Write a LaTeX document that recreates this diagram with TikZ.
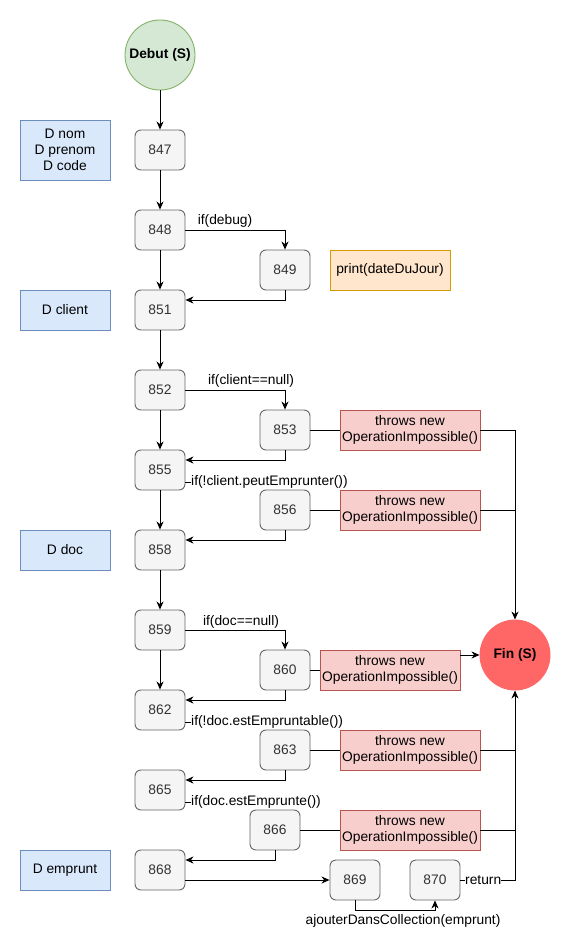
\documentclass[tikz,border=0pt]{standalone}
\usepackage{fontspec}
\setmainfont{Liberation Sans}
\usetikzlibrary{arrows.meta}
\definecolor{stmtfill}{HTML}{F5F5F5}
\definecolor{stmtline}{HTML}{666666}
\definecolor{stmttext}{HTML}{333333}
\definecolor{declfill}{HTML}{DAE8FC}
\definecolor{declline}{HTML}{6C8EBF}
\definecolor{notefill}{HTML}{FFE6CC}
\definecolor{noteline}{HTML}{D79B00}
\definecolor{excfill}{HTML}{F8CECC}
\definecolor{excline}{HTML}{B85450}
\definecolor{startfill}{HTML}{D5E8D4}
\definecolor{startline}{HTML}{82B366}
\definecolor{endfill}{HTML}{FF6666}
\begin{document}
\begin{tikzpicture}[x=1pt,y=-1pt,font=\fontsize{13.8}{16}\selectfont,
  stmt/.style={draw=stmtline,fill=stmtfill,text=stmttext,rounded corners=6pt,minimum width=50pt,minimum height=40pt,inner sep=0pt,line width=0.9pt},
  decl/.style={draw=declline,fill=declfill,minimum width=90pt,minimum height=40pt,inner sep=0pt,align=center,line width=0.9pt},
  note/.style={draw=noteline,fill=notefill,minimum width=120pt,minimum height=40pt,inner sep=0pt,line width=0.9pt},
  exc/.style={draw=excline,fill=excfill,minimum width=140pt,minimum height=40pt,inner sep=0pt,align=center,line width=0.9pt},
  term/.style={circle,minimum size=70pt,inner sep=0pt,font=\fontsize{13.8}{16}\selectfont\bfseries,line width=0.9pt},
  lbl/.style={inner sep=0pt},
  flow/.style={line width=1pt,-{Stealth[length=8pt,width=7pt,inset=2.5pt]}},
  link/.style={line width=1pt}]
\useasboundingbox (0,0) rectangle (572,950);
% start and end
\node[term,draw=startline,fill=startfill] (debut) at (160,55) {Debut (S)};
\node[term,draw=endfill,fill=endfill] (fin) at (515,655) {Fin (S)};
% declarations
\node[decl] (dnom) at (65,150) [minimum height=60pt] {D nom\\D prenom\\D code};
\node[decl] (dclient) at (65,310) {D client};
\node[decl] (ddoc) at (65,550) {D doc};
\node[decl] (demprunt) at (65,870) {D emprunt};
% main column
\node[stmt] (847) at (160,150) {847};
\node[stmt] (848) at (160,230) {848};
\node[stmt] (851) at (160,310) {851};
\node[stmt] (852) at (160,390) {852};
\node[stmt] (855) at (160,470) {855};
\node[stmt] (858) at (160,550) {858};
\node[stmt] (859) at (160,630) {859};
\node[stmt] (862) at (160,710) {862};
\node[stmt] (865) at (160,790) {865};
\node[stmt] (868) at (160,870) {868};
% branches
\node[stmt] (849) at (285,270) {849};
\node[stmt] (853) at (285,430) {853};
\node[stmt] (856) at (285,510) {856};
\node[stmt] (860) at (285,670) {860};
\node[stmt] (863) at (285,750) {863};
\node[stmt] (866) at (275,830) {866};
\node[stmt] (869) at (355,880) {869};
\node[stmt] (870) at (435,880) {870};
\node[note] (print) at (390,270) {print(dateDuJour)};
\node[exc] (exc1) at (410,430) {throws new\\OperationImpossible()};
\node[exc] (exc2) at (410,510) {throws new\\OperationImpossible()};
\node[exc] (exc3) at (390,670) {throws new\\OperationImpossible()};
\node[exc] (exc4) at (410,750) {throws new\\OperationImpossible()};
\node[exc] (exc5) at (410,830) {throws new\\OperationImpossible()};
% labels
\node[lbl] (ldebug) at (225,221) {if(debug)};
\node[lbl] (lclient) at (251,381) {if(client==null)};
\node[lbl,anchor=west] (lpeut) at (191,482) {if(!client.peutEmprunter())};
\node[lbl] (ldoc) at (241,622) {if(doc==null)};
\node[lbl,anchor=west] (lempruntable) at (191,722) {if(!doc.estEmpruntable())};
\node[lbl,anchor=west] (lemprunte) at (191,802) {if(doc.estEmprunte())};
\node[lbl] (lajout) at (403,921) {ajouterDansCollection(emprunt)};
\node[lbl,anchor=west] (lreturn) at (465,880) {return};
% main flow
\draw[flow] (debut) -- (847);
\draw[flow] (847) -- (848);
\draw[flow] (848) -- (851);
\draw[flow] (851) -- (852);
\draw[flow] (852) -- (855);
\draw[flow] (855) -- (858);
\draw[flow] (858) -- (859);
\draw[flow] (859) -- (862);
% branches
\draw[flow] (848.east) -| (849.north);
\draw[flow] (849.south) |- ([yshift=10pt]851.east);
\draw[flow] (852.east) -| (853.north);
\draw[flow] (853.south) |- ([yshift=10pt]855.east);
\draw[link] ([yshift=-12pt]855.east) -- (lpeut.west);
\draw[flow] (856.south) |- ([yshift=10pt]858.east);
\draw[flow] (859.east) -| (860.north);
\draw[flow] (860.south) |- ([yshift=10pt]862.east);
\draw[link] ([yshift=-12pt]862.east) -- (lempruntable.west);
\draw[flow] (863.south) |- ([yshift=10pt]865.east);
\draw[link] ([yshift=-12pt]865.east) -- (lemprunte.west);
\draw[flow] (866.south) |- ([yshift=10pt]868.east);
\draw[flow] (868.east |- 869.west) -- (869.west);
\draw[flow] (869.south) -- ++(0,10) -| (870.south);
\draw[link] (870.east) -- (lreturn.west);
% exceptions
\draw[link] (853) -- (exc1);
\draw[link] (856) -- (exc2);
\draw[link] (860) -- (exc3);
\draw[link] (863) -- (exc4);
\draw[link] (866) -- (exc5);
\draw[flow] (exc1.east) -| (fin.north);
\draw[link] (exc2.east) -- (exc2.east -| fin.north);
\draw[flow] (exc3.east |- fin.west) -- (fin.west);
\draw[link] (exc4.east) -- (exc4.east -| fin.south);
\draw[link] (exc5.east) -- (exc5.east -| fin.south);
\draw[flow] (lreturn.east) -| (fin.south);
\end{tikzpicture}
\end{document}
